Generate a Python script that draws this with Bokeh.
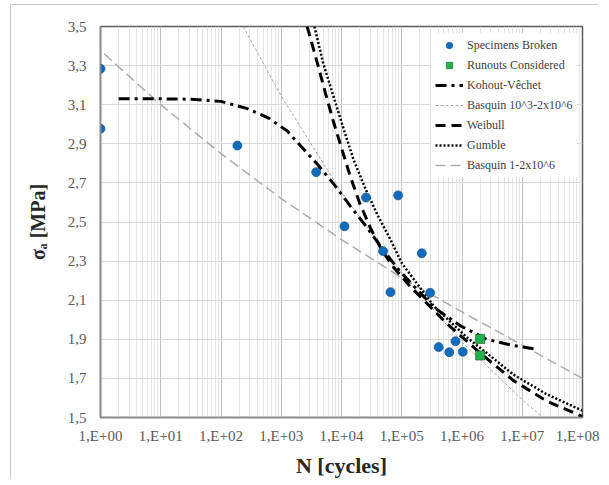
from bokeh.plotting import figure
from bokeh.models import FixedTicker, Legend, LegendItem
from bokeh.embed import file_html
from bokeh.resources import INLINE

# ---- tick values and labels ----
x_ticks = [1, 10, 100, 1000, 10000, 100000, 1000000, 10000000, 100000000]
x_tick_labels = ["1,E+00", "1,E+01", "1,E+02", "1,E+03", "1,E+04",
                 "1,E+05", "1,E+06", "1,E+07", "1,E+08"]
y_ticks = [1.5, 1.7, 1.9, 2.1, 2.3, 2.5, 2.7, 2.9, 3.1, 3.3, 3.5]
y_tick_labels = ["1,5", "1,7", "1,9", "2,1", "2,3", "2,5", "2,7", "2,9", "3,1", "3,3", "3,5"]

# ---- experimental data ----
broken_N = [1, 1, 187, 3800, 11200, 25500, 49000, 65000, 87000, 215000,
            296000, 410000, 615000, 780000, 1030000]
broken_S = [3.284, 2.977, 2.891, 2.755, 2.478, 2.625, 2.351, 2.141, 2.636, 2.340,
            2.138, 1.860, 1.834, 1.890, 1.836]
runout_N = [2000000, 2000000]
runout_S = [1.902, 1.817]

# ---- model curves ----
kohout_N = [2, 10, 32, 100, 275, 630, 1260, 2090, 3980, 7410, 14100, 26300,
            50000, 95000, 340000, 930000, 2570000, 7100000, 16200000]
kohout_S = [3.13, 3.13, 3.128, 3.117, 3.08, 3.03, 2.965, 2.89, 2.795, 2.695, 2.58,
            2.473, 2.354, 2.245, 2.064, 1.97, 1.90, 1.868, 1.851]

basq3_N = [234, 1000, 10000, 100000, 1000000, 10000000, 22000000]
basq3_S = [3.50, 3.144, 2.651, 2.236, 1.886, 1.591, 1.50]

weibull_N = [2690, 4000, 5400, 7400, 10200, 14100, 20400, 30200, 46800, 72400,
             138000, 562000, 2000000, 7080000, 25100000, 100000000]
weibull_S = [3.50, 3.31, 3.16, 3.01, 2.87, 2.73, 2.59, 2.47, 2.355, 2.27,
             2.17, 1.98, 1.83, 1.69, 1.585, 1.505]

gumble_N = [3550, 5000, 7400, 11000, 15800, 25000, 39000, 65000, 100000, 340000,
            1200000, 2570000, 7100000, 25000000, 100000000]
gumble_S = [3.50, 3.31, 3.14, 2.97, 2.82, 2.67, 2.54, 2.41, 2.29, 2.07,
            1.91, 1.83, 1.72, 1.62, 1.535]

basq1_N = [1.15, 10, 100, 1000, 10000, 100000, 1000000, 10000000, 100000000]
basq1_S = [3.36, 3.10, 2.85, 2.62, 2.41, 2.215, 2.04, 1.87, 1.70]

FONT = "Liberation Serif"

p = figure(x_axis_type="log", x_range=(1, 1e8), y_range=(1.5, 3.5),
           frame_width=482, frame_height=391,
           min_border_left=89, min_border_right=17, min_border_top=21, min_border_bottom=58,
           output_backend="svg", toolbar_location=None,
           background_fill_color="white", border_fill_color="white")
p.styles = {"margin-left": "11px", "margin-top": "5px",
            "box-shadow": "-1px -1px 0 0 #c8c8c8"}

minor = [m * 10 ** k for k in range(8) for m in range(2, 10)]
p.xaxis.ticker = FixedTicker(ticks=x_ticks, minor_ticks=minor)
p.yaxis.ticker = FixedTicker(ticks=y_ticks)
p.xaxis.major_label_overrides = dict(zip(x_ticks, x_tick_labels))
p.yaxis.major_label_overrides = dict(zip(y_ticks, y_tick_labels))

p.xgrid.grid_line_color = "#c0c0c0"
p.xgrid.minor_grid_line_color = "#e4e4e4"
p.ygrid.grid_line_color = "#d9d9d9"

p.outline_line_color = "#595959"
p.outline_line_width = 1.5

for ax in (p.xaxis[0], p.yaxis[0]):
    ax.major_tick_out = 0
    ax.major_tick_in = 0
    ax.minor_tick_out = 0
    ax.minor_tick_in = 0
    ax.axis_line_color = "#8c8c8c"
    ax.axis_line_width = 1.5
    ax.major_label_text_font = FONT
    ax.major_label_text_font_size = "15px"
    ax.major_label_text_color = "#595959"
    ax.axis_label_text_font = FONT
    ax.axis_label_text_font_style = "bold"
    ax.axis_label_text_color = "#262626"

p.xaxis.axis_label = "N [cycles]"
p.xaxis.axis_label_text_font_size = "22px"
p.xaxis.major_label_standoff = 10
p.xaxis.axis_label_standoff = 6
p.yaxis.axis_label = "σₐ [MPa]"
p.yaxis.axis_label_text_font_size = "20px"
p.yaxis.major_label_standoff = 14
p.yaxis.axis_label_standoff = 16

# ---- curves ----
r_basq1 = p.line(basq1_N, basq1_S, line_color="#ababab", line_width=1.5, line_dash="10 5")
r_basq3 = p.line(basq3_N, basq3_S, line_color="#a6a6a6", line_width=1, line_dash="3 2")
r_kohout = p.line(kohout_N, kohout_S, line_color="black", line_width=3, line_dash="11 5 3 5")
r_weibull = p.line(weibull_N, weibull_S, line_color="black", line_width=3, line_dash="10 6")
r_gumble = p.line(gumble_N, gumble_S, line_color="black", line_width=2.5, line_dash="2 2")

# ---- markers ----
r_broken = p.scatter(broken_N, broken_S, marker="circle", size=9,
                     fill_color="#0f6cbd", line_color="#1d5a96", line_width=0.75)
r_runout = p.scatter(runout_N, runout_S, marker="square", size=9,
                     fill_color="#1db34a", line_color="#2f6b3a", line_width=0.75)

items = [
    LegendItem(label="Specimens Broken", renderers=[r_broken]),
    LegendItem(label="Runouts Considered", renderers=[r_runout]),
    LegendItem(label="Kohout-Vêchet", renderers=[r_kohout]),
    LegendItem(label="Basquin 10^3-2x10^6", renderers=[r_basq3]),
    LegendItem(label="Weibull", renderers=[r_weibull]),
    LegendItem(label="Gumble", renderers=[r_gumble]),
    LegendItem(label="Basquin 1-2x10^6", renderers=[r_basq1]),
]
legend = Legend(items=items, location=(331, 240),
                label_text_font=FONT, label_text_font_size="12px",
                label_text_color="#404040",
                glyph_width=28, glyph_height=16, label_height=16,
                label_standoff=4, spacing=4, padding=4, margin=0,
                border_line_alpha=0, background_fill_color="white",
                background_fill_alpha=1)
p.add_layout(legend)

open("out.html", "w").write(file_html(p, INLINE))
